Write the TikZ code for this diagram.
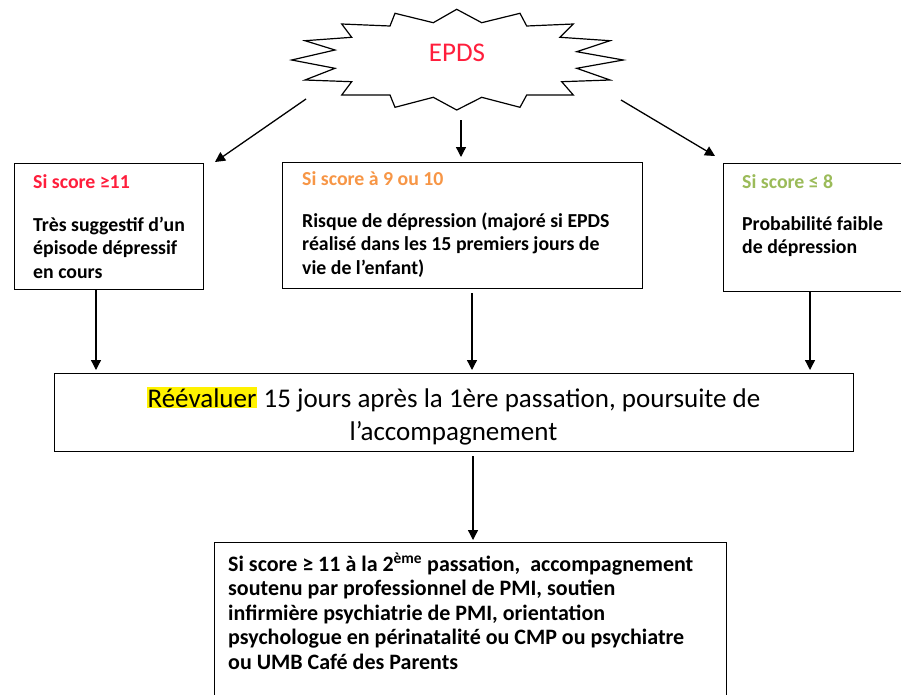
\documentclass[tikz,border=0pt]{standalone}
\usepackage{fontspec}
\setmainfont{Carlito}
\usetikzlibrary{arrows.meta,positioning}

\definecolor{scred}{RGB}{255,30,60}
\definecolor{scorange}{RGB}{247,150,70}
\definecolor{scgreen}{RGB}{155,187,89}

\tikzset{
  box/.style={draw,line width=1.2pt,inner sep=0pt,anchor=north west},
  txt/.style={anchor=north west,inner sep=0pt,align=left,
    font=\bfseries\fontsize{19.8}{23.5}\selectfont},
  arr/.style={-{Triangle[length=10pt,width=10pt]},line width=1.3pt}
}

\begin{document}
\begin{tikzpicture}[x=1pt,y=-1pt]
\clip (0,0) rectangle (901,694);
\fill[white] (0,0) rectangle (901,694);

% the star
\draw[line width=1.2pt] (291.7,60) -- (335,50) -- (305,40.7) -- (351.7,37.3)
  -- (341.7,24) -- (390,26) -- (395,13.3) -- (433.3,22.7) -- (456.7,9.3)
  -- (481.7,22.7) -- (520,13.3) -- (526.7,26) -- (573.3,24) -- (560,37.3)
  -- (610,40.7) -- (576.7,51.7) -- (623.3,60) -- (576.7,68.3) -- (610,80)
  -- (561.7,81.7) -- (573.3,95) -- (526.7,95) -- (520,107.3) -- (481.7,97.3)
  -- (456.7,110) -- (433.3,97.3) -- (395,107.3) -- (390,95) -- (341.7,95)
  -- (351.7,81.7) -- (305,80) -- (335,68.3) -- cycle;
\node[text=scred,font=\fontsize{27}{32}\selectfont] (epds) at (457,53) {EPDS};

% the three scores
\node[box,minimum width=189pt,minimum height=126pt] (b1) at (14,163) {};
\node[box,minimum width=360pt,minimum height=126pt] (b2) at (282,162) {};
\node[box,minimum width=200pt,minimum height=128pt] (b3) at (723,163) {};

\node[txt] (t1) at (33,174) {\textcolor{scred}{Si score ≥11}\\[19.5pt]
  Très suggestif d’un\\épisode dépressif\\en cours};
\node[txt] (t2) at (302,171) {\textcolor{scorange}{Si score à 9 ou 10}\\[18.5pt]
  Risque de dépression (majoré si EPDS\\réalisé dans les 15 premiers jours de\\vie de l’enfant)};
\node[txt] (t3) at (742,174) {\textcolor{scgreen}{Si score ≤ 8}\\[18.5pt]
  Probabilité faible\\de dépression};

% reevaluation
\node[box,minimum width=799pt,minimum height=78pt] (mid) at (54,373) {};
\node[align=center,inner sep=0pt,font=\fontsize{27}{33}\selectfont] (midtxt) at (453.5,416)
  {{\setlength{\fboxsep}{1pt}\colorbox{yellow}{Réévaluer}} 15 jours après la 1ère passation, poursuite de\\l’accompagnement};

\node[box,minimum width=512pt,minimum height=200pt] (b5) at (214,542) {};
\node[txt,font=\bfseries\fontsize{22}{24.5}\selectfont] (t5) at (228,553)
  {Si score ≥ 11 à la 2\textsuperscript{ème} passation,~ accompagnement\\
  soutenu par professionnel de PMI, soutien\\infirmière psychiatrie de PMI, orientation\\
  psychologue en périnatalité ou CMP ou psychiatre\\ou UMB Café des Parents};

% arrows
\coordinate (s1) at (306,99);
\coordinate (e1) at (215,162);
\coordinate (s2) at (461,120);
\coordinate (s3) at (621,100);
\coordinate (e3) at (715,156);
\draw[arr] (s1) -- (e1);
\draw[arr,shorten >=5pt] (s2) -- (b2.north -| s2);
\draw[arr] (s3) -- (e3);

\coordinate (c1) at (96,0);
\coordinate (c2) at (472,0);
\coordinate (c3) at (810,0);
\coordinate (c4) at (473,0);
\draw[arr,shorten >=3pt] (b1.south -| c1) -- (mid.north -| c1);
\draw[arr,shorten <=4pt,shorten >=3pt] (b2.south -| c2) -- (mid.north -| c2);
\draw[arr,shorten >=3pt] (b3.south -| c3) -- (mid.north -| c3);
\draw[arr,shorten <=4pt,shorten >=2pt] (mid.south -| c4) -- (b5.north -| c4);
\end{tikzpicture}
\end{document}
